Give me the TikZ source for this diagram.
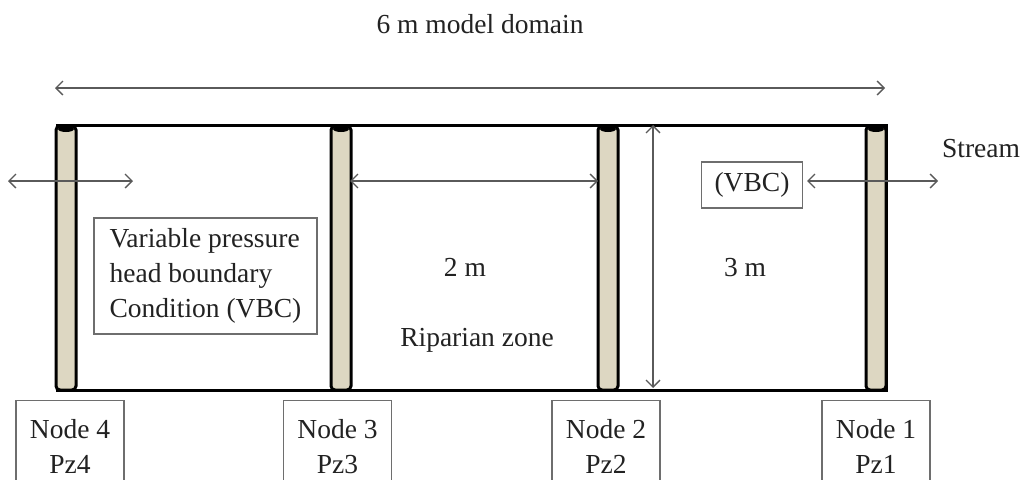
\documentclass[tikz,border=0pt]{standalone}
\usepackage{fontspec}
\setmainfont{Liberation Serif}
\usetikzlibrary{arrows.meta}
\definecolor{tubefill}{HTML}{DDD7C2}
\definecolor{arrowgray}{HTML}{5A5A5A}
\definecolor{boxgray}{HTML}{6E6E6E}
\definecolor{txt}{HTML}{222222}
\begin{document}
\begin{tikzpicture}[x=1pt,y=-1pt, font=\fontsize{27.5}{35}\selectfont, text=txt,
 dim/.style={draw=arrowgray, line width=1.3pt, {Straight Barb[length=7pt,width=14pt]}-{Straight Barb[length=7pt,width=14pt]}},
 lbl/.style={anchor=base, inner sep=0pt},
 gbox/.style={draw=boxgray, line width=1.3pt, inner sep=0pt},
 tube/.style={draw=black, line width=3pt, fill=tubefill, rounded corners=4pt},
 nodebox/.style={gbox, anchor=north, minimum width=108pt, minimum height=92pt, align=center}]
\clip (0,0) rectangle (1024,479);
\fill[white] (0,0) rectangle (1024,479);
% domain
\draw[line width=3pt] (57,125) rectangle (886,390);
\foreach \x in {66,341,608,876} {
  \draw[tube] (\x-10,126) rectangle (\x+10,390);
  \fill[black] (\x,129) ellipse [x radius=8pt, y radius=3pt];
}
% texts
\node[lbl] (title) at (480,33) {6 m model domain};
\node[lbl] (stream) at (981,157) {Stream};
\node[gbox, minimum width=101pt, minimum height=46pt] (vbc) at (752,185) {(VBC)};
\node[gbox, minimum width=223pt, minimum height=116pt, align=left] (vphb) at (205.5,276) {Variable pressure\\head boundary\\Condition (VBC)};
\node[lbl] (two) at (465,276) {2 m};
\node[lbl] (three) at (745,276) {3 m};
\node[lbl] (rip) at (477,346) {Riparian zone};
\node[nodebox] (n4) at (70,400) {Node 4\\Pz4};
\node[nodebox] (n3) at (337.5,400) {Node 3\\Pz3};
\node[nodebox] (n2) at (606,400) {Node 2\\Pz2};
\node[nodebox] (n1) at (876,400) {Node 1\\Pz1};
% arrows
\coordinate (domL) at (55,88); \coordinate (domR) at (885,88);
\coordinate (lfL) at (8,181); \coordinate (lfR) at (133,181);
\coordinate (midL) at (350,181); \coordinate (midR) at (598,181);
\coordinate (vT) at (653,125); \coordinate (vB) at (653,388);
\coordinate (vbcR) at (807,181); \coordinate (stR) at (938,181);
\draw[dim] (domL) -- (domR);
\draw[dim] (lfL) -- (lfR);
\draw[dim] (midL) -- (midR);
\draw[dim] (vT) -- (vB);
\draw[dim] (vbcR) -- (stR);
\end{tikzpicture}
\end{document}
